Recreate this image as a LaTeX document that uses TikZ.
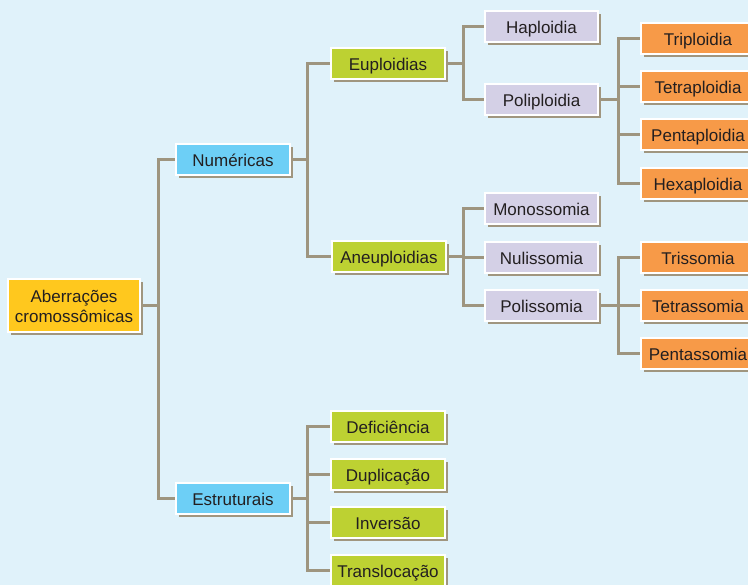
\documentclass[tikz,border=0pt]{standalone}
\usepackage{fontspec}
\setmainfont{Liberation Sans}
\usetikzlibrary{shadows,backgrounds}
\definecolor{bgc}{HTML}{E0F2FA}
\definecolor{shc}{HTML}{A0967F}
\definecolor{linec}{HTML}{9E957F}
\definecolor{yel}{HTML}{FFC81E}
\definecolor{blu}{HTML}{6DCFF6}
\definecolor{grn}{HTML}{BDD132}
\definecolor{lav}{HTML}{D4D0E6}
\definecolor{org}{HTML}{F79A48}
\definecolor{txt}{HTML}{231F20}
\tikzset{
  basebox/.style={draw=white, line width=2pt, text=txt, inner sep=0pt,
    font=\fontsize{17}{20}\selectfont,
    drop shadow={shadow xshift=3pt, shadow yshift=-3pt, fill=shc, opacity=1}},
  box/.style={basebox, minimum height=31pt, text height=12.2pt, text depth=0pt},
  rootbox/.style={basebox, fill=yel, minimum width=132pt, minimum height=53pt,
    align=center},
  l1/.style={box, fill=blu, minimum width=114pt},
  l2/.style={box, fill=grn, minimum width=114pt},
  l3/.style={box, fill=lav, minimum width=113pt},
  l4/.style={box, fill=org, minimum width=114pt},
  conn/.style={draw=linec, line width=3pt}
}
\begin{document}
\begin{tikzpicture}[x=1pt,y=-1pt]
\useasboundingbox (0,0) rectangle (748,585);
\coordinate (t0) at (158,0);
\coordinate (t1) at (307,0);
\coordinate (t2) at (463,0);
\coordinate (t3) at (618,0);

\node[rootbox] (root) at (74,306) {Aberrações\\cromossômicas};
\node[l1] (num) at (233,160) {Numéricas};
\node[l1] (est) at (233,499) {Estruturais};
\node[l2] (eup) at (388,64) {Euploidias};
\node[l2] (aneu) at (389,257) {Aneuploidias};
\node[l2] (def) at (388,427) {Deficiência};
\node[l2] (dup) at (388,475) {Duplicação};
\node[l2] (inv) at (388,523) {Inversão};
\node[l2] (tra) at (388,571) {Translocação};
\node[l3] (hap) at (541.5,27) {Haploidia};
\node[l3] (pol) at (541.5,100) {Poliploidia};
\node[l3] (mono) at (541.5,209) {Monossomia};
\node[l3] (nul) at (541.5,258) {Nulissomia};
\node[l3] (polis) at (541.5,306) {Polissomia};
\node[l4] (tri) at (698,39) {Triploidia};
\node[l4] (tetp) at (698,87) {Tetraploidia};
\node[l4] (pent) at (698,135) {Pentaploidia};
\node[l4] (hex) at (698,184) {Hexaploidia};
\node[l4] (tris) at (698,258) {Trissomia};
\node[l4] (tets) at (698,306) {Tetrassomia};
\node[l4] (pents) at (698,354) {Pentassomia};

\begin{scope}[on background layer]
\fill[bgc] (0,0) rectangle (748,585);
\foreach \p/\t/\c in {root/t0/num, root/t0/est,
  num/t1/eup, num/t1/aneu,
  est/t1/def, est/t1/dup, est/t1/inv, est/t1/tra,
  eup/t2/hap, eup/t2/pol,
  aneu/t2/mono, aneu/t2/nul, aneu/t2/polis,
  pol/t3/tri, pol/t3/tetp, pol/t3/pent, pol/t3/hex,
  polis/t3/tris, polis/t3/tets, polis/t3/pents}
  \draw[conn] (\p.east) -- (\p.east -| \t) |- (\c.west);
\end{scope}
\end{tikzpicture}
\end{document}
